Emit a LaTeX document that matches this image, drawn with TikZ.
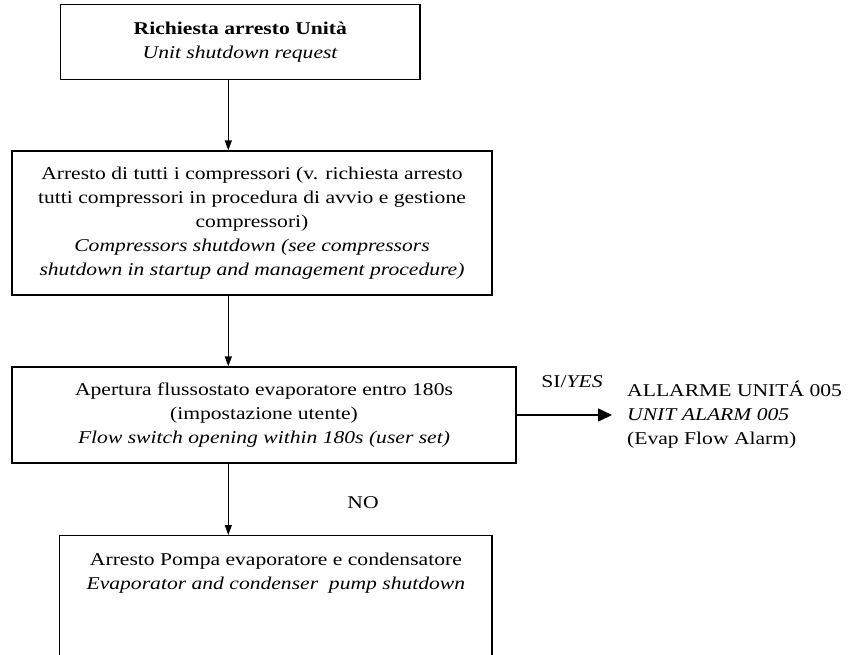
\documentclass[tikz,border=0pt]{standalone}
\usepackage{fontspec}
\setmainfont{Liberation Serif}[FakeStretch=1.2]
\usetikzlibrary{arrows.meta,positioning}
\tikzset{
  box/.style={draw, line width=1.2pt, align=center, inner sep=0pt},
  flowarrow/.style={line width=1.2pt, -{Triangle[length=10pt,width=7pt]}},
  yesarrow/.style={line width=1.6pt, -{Triangle[length=14pt,width=13pt]}}
}
\begin{document}
\begin{tikzpicture}[x=1pt, y=-1pt, every node/.style={font=\fontsize{18}{24}\selectfont}]
\useasboundingbox (0,0) rectangle (853,654);
\coordinate (ax) at (228.3,0);
\node[box, minimum width=359.3pt, minimum height=74.3pt] (req) at (240.3,42) {\textbf{Richiesta arresto Unità}\\\textit{Unit shutdown request}};
\node[box, minimum width=480pt, minimum height=144pt] (comp) at (252,223) {Arresto di tutti i compressori (v. richiesta arresto\\tutti compressori in procedura di avvio e gestione\\compressori)\\\textit{Compressors shutdown (see compressors}\\\textit{shutdown in startup and management procedure)}};
\node[box, minimum width=504pt, minimum height=96pt] (flow) at (264,415) {Apertura flussostato evaporatore entro 180s\\(impostazione utente)\\\textit{Flow switch opening within 180s (user set)}};
\node[box, minimum width=432.3pt, minimum height=150pt, anchor=north] (pump) at (275.9,535) {};
\node[align=center] (pumptext) at (275.9,573.5) {Arresto Pompa evaporatore e condensatore\\\textit{Evaporator and condenser\ \ pump shutdown}};
\node[anchor=west, align=left, inner xsep=15pt] (alarm) at (612,415) {ALLARME UNITÁ 005\\\textit{UNIT ALARM 005}\\(Evap Flow Alarm)};
\node (yes) at (572,382) {SI/\textit{YES}};
\node (no) at (363,503) {NO};
\draw[flowarrow] (req.south -| ax) -- (comp.north -| ax);
\draw[flowarrow] (comp.south -| ax) -- (flow.north -| ax);
\draw[flowarrow] (flow.south -| ax) -- (pump.north -| ax);
\draw[yesarrow] (flow.east) -- (flow.east -| alarm.west);
\end{tikzpicture}
\end{document}
